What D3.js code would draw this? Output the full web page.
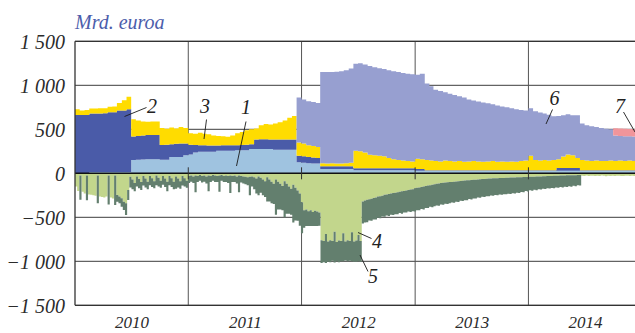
<!DOCTYPE html>
<html>
<head>
<meta charset="utf-8">
<script src="https://cdn.jsdelivr.net/npm/d3@7"></script>
<style>
  html, body { margin: 0; padding: 0; background: #fff; }
  svg { display: block; }
  text { font-family: "Liberation Serif", "Times New Roman", serif; font-style: italic; }
</style>
</head>
<body>
<svg id="chart" width="635" height="333"></svg>
<script>
// ---- Liquidity-providing bands, billions of euro, half-monthly from Jan 2010 (band thickness) ----
const band1 = [
  0,0,0,15,15,15,15,15,15,15,15,15,152,155,158,160,160,160,155,155,185,185,185,205,
  215,235,246,246,246,246,255,255,255,255,262,262,262,275,275,275,275,275,268,268,268,268,268,125,
  120,115,110,110,50,50,50,50,50,50,50,35,35,35,35,35,35,35,35,35,35,35,35,35,
  30,30,28,28,28,28,28,28,28,28,28,28,28,28,28,28,28,28,28,28,28,28,28,28,
  28,28,28,28,28,28,28,28,28,28,28,28,28,28,28,28,28,28,28,28,28,28,28,28
];
const band2 = [
  663,663,663,665,665,665,667,678,678,700,700,712,265,270,272,275,275,275,167,170,145,150,153,135,
  110,87,74,72,69,69,60,63,63,65,58,60,63,55,110,113,113,110,117,117,117,117,117,75,
  75,70,70,65,30,30,30,30,30,30,30,23,23,23,23,23,23,23,23,23,23,23,23,23,
  20,20,7,7,7,7,7,7,7,7,7,7,7,7,7,7,7,7,7,7,7,7,7,7,
  7,7,7,7,7,7,32,32,32,32,32,7,7,7,7,7,7,7,7,7,7,7,7,7
];
const band3 = [
  64,52,57,55,55,58,58,64,67,85,115,143,198,175,160,150,155,155,193,180,190,175,187,175,
  130,128,140,132,130,115,110,102,97,110,135,148,165,170,125,157,172,170,180,195,215,245,265,150,
  145,135,130,125,35,32,35,32,30,35,40,197,192,177,152,147,142,137,117,102,92,87,82,77,
  115,110,115,110,105,100,110,105,100,105,95,100,105,100,95,100,105,95,100,95,100,95,105,110,
  165,115,110,115,110,115,100,130,155,145,115,115,110,105,110,105,105,110,105,110,105,110,105,105
];
const band6 = [
  0,0,0,0,0,0,0,0,0,0,0,0,0,0,0,0,0,0,0,0,0,0,0,0,
  0,0,0,0,0,0,0,0,0,0,0,0,0,0,0,0,0,0,0,0,0,0,0,510,
  500,500,500,500,1035,1038,1035,1043,1050,1055,1070,990,1000,1000,1010,1000,995,990,995,1000,1000,995,990,990,
  955,970,870,845,810,800,775,765,755,735,730,705,688,680,675,660,645,640,623,620,605,598,580,570,
  540,555,545,530,520,498,490,470,455,455,485,415,400,395,380,375,365,355,290,280,282,275,278,278
];
const band7 = [
  0,0,0,0,0,0,0,0,0,0,0,0,0,0,0,0,0,0,0,0,0,0,0,0,
  0,0,0,0,0,0,0,0,0,0,0,0,0,0,0,0,0,0,0,0,0,0,0,0,
  0,0,0,0,0,0,0,0,0,0,0,0,0,0,0,0,0,0,0,0,0,0,0,0,
  0,0,0,0,0,0,0,0,0,0,0,0,0,0,0,0,0,0,0,0,0,0,0,0,
  0,0,0,0,0,0,0,0,0,0,0,0,0,0,0,0,0,0,82,83,83,82,82,82
];

// ---- Liquidity-absorbing bands, billions of euro, weekly from Jan 2010 (drawn below zero) ----
const band4 = [
  150,200,25,210,230,25,240,245,250,255,25,265,270,275,265,25,275,285,25,246,
  265,284,322,341,189,
  40,70,110,35,65,100,30,60,95,30,55,90,25,50,85,30,60,95,30,55,95,35,60,90,30,55,85,
  30,25,35,25,30,20,30,25,35,25,30,20,25,30,25,20,30,25,30,25,30,25,35,25,30,35,40,45,40,
  35,45,60,35,50,70,90,45,70,95,120,70,95,120,145,90,120,150,175,130,165,195,230,330,
  420,410,430,420,440,425,435,445,
  760,770,690,775,760,770,665,780,765,770,680,775,760,770,670,775,765,700,770,
  320,310,300,295,290,280,275,265,260,255,245,240,235,230,225,220,215,210,205,200,
  195,190,185,180,170,165,160,155,150,145,140,135,130,125,120,115,110,108,105,102,
  100,98,95,92,90,88,85,83,80,78,76,74,72,70,68,66,64,62,60,58,
  57,56,55,54,53,52,51,50,49,48,47,46,45,44,43,42,41,40,39,38,
  37,36,35,34,33,32,31,30,29,28,27,26,25,24,23,22,22,21,21,20,20,
  28,30,26,32,29,27,31,28,30,26,29,33,28,30,27,31,29,28,32,30,27,29,31,28,30
];
const band5 = [
  0,0,275,0,0,280,0,0,0,0,315,0,0,0,0,330,0,0,335,76,
  76,95,95,133,114,
  120,110,95,115,105,90,110,100,85,105,100,80,110,100,80,100,95,110,105,100,85,140,100,85,110,95,80,
  80,70,75,190,70,65,75,70,80,180,70,65,75,70,185,65,70,75,80,200,70,75,80,190,75,80,85,90,210,
  115,135,170,215,170,180,180,275,250,245,230,400,315,290,275,410,340,310,295,430,370,345,365,350,
  200,190,170,180,160,175,165,150,
  260,240,330,230,250,225,350,220,245,230,320,215,240,225,330,230,240,300,235,
  250,250,255,240,250,245,250,240,250,235,250,240,250,240,250,245,250,240,255,245,
  250,245,255,250,265,255,260,250,260,250,255,245,255,250,245,255,245,250,240,248,
  240,235,240,230,235,225,230,222,225,215,222,212,215,205,210,200,205,198,200,195,
  198,190,195,188,192,185,188,182,185,178,182,175,178,168,172,160,165,152,158,150,
  155,145,150,142,145,138,142,138,140,133,138,130,135,128,132,125,130,120,125,115,118,
  0,0,0,0,0,0,0,0,0,0,0,0,0,0,0,0,0,0,0,0,0,0,0,0,0
];

// ---- Axis labels ----
const yTickValues = [-1500, -1000, -500, 0, 500, 1000, 1500];
const yTickLabels = ["\u22121 500", "\u22121 000", "\u2212500", "0", "500", "1 000", "1 500"];
const xYears = [2010, 2011, 2012, 2013, 2014];
const xTickLabels = ["2010", "2011", "2012", "2013", "2014"];
const unitLabel = "Mrd. euroa";

// ---- Colours ----
const colors = {
  b1: "#9fc3e0", b2: "#4a5ba8", b3: "#ffdc00", b6: "#979fd0", b7: "#f1959b",
  b4: "#c2d68c", b5: "#637f6e"
};

// ---- Layout ----
const svg = d3.select("#chart");
const W = 635;
const plotLeft = 75, plotTop = 41.3, plotBottom = 305.3;

const x = d3.scaleTime()
  .domain([new Date(2010, 0, 1), new Date(2015, 0, 1)])
  .range([plotLeft, 641.7]);
const y = d3.scaleLinear().domain([-1500, 1500]).range([plotBottom, plotTop]);

// period start dates; one extra entry closes the last step
const halfMonths = d3.range(band1.length + 1)
  .map(k => new Date(2010, Math.floor(k / 2), k % 2 ? 16 : 1));
const weeks = d3.range(band4.length + 1)
  .map(w => d3.timeDay.offset(new Date(2010, 0, 1), 7 * w));

const posRows = halfMonths.map((date, i) => {
  const j = Math.min(i, band1.length - 1);
  return { date, b1: band1[j], b2: band2[j], b3: band3[j], b6: band6[j], b7: band7[j] };
});
const negRows = weeks.map((date, i) => {
  const j = Math.min(i, band4.length - 1);
  return { date, b4: band4[j], b5: band5[j] };
});

const posStack = d3.stack().keys(["b1", "b2", "b3", "b6", "b7"])(posRows);
const negStack = d3.stack().keys(["b4", "b5"])(negRows);

// clip to the plotting frame
svg.append("defs").append("clipPath").attr("id", "plot")
  .append("rect").attr("x", plotLeft).attr("y", plotTop)
  .attr("width", W - plotLeft).attr("height", plotBottom - plotTop);

// ---- Grid (behind the areas) ----
const grid = svg.append("g").attr("stroke", "#3c3c3c").attr("stroke-width", 1);
yTickValues.forEach(v => {
  grid.append("line").attr("x1", plotLeft).attr("x2", W).attr("y1", y(v)).attr("y2", y(v));
});
xYears.slice(1).forEach(yr => {
  const xx = x(new Date(yr, 0, 1));
  grid.append("line").attr("x1", xx).attr("x2", xx).attr("y1", plotTop).attr("y2", plotBottom)
    .attr("stroke", "#555");
});

// ---- Areas ----
const plot = svg.append("g").attr("clip-path", "url(#plot)");

const posArea = d3.area()
  .curve(d3.curveStepAfter)
  .x(d => x(d.data.date))
  .y0(d => y(d[0]))
  .y1(d => y(d[1]));
plot.selectAll("path.pos").data(posStack).join("path")
  .attr("class", "pos")
  .attr("fill", s => colors[s.key])
  .attr("d", posArea);

const negArea = d3.area()
  .curve(d3.curveStepAfter)
  .x(d => x(d.data.date))
  .y0(d => y(-d[0]))
  .y1(d => y(-d[1]));
plot.selectAll("path.neg").data(negStack).join("path")
  .attr("class", "neg")
  .attr("fill", s => colors[s.key])
  .attr("d", negArea);

// ---- Zero line with year ticks ----
svg.append("line").attr("x1", plotLeft).attr("x2", W).attr("y1", y(0)).attr("y2", y(0))
  .attr("stroke", "#111").attr("stroke-width", 1.5);
xYears.slice(1).forEach(yr => {
  const xx = x(new Date(yr, 0, 1));
  svg.append("line").attr("x1", xx).attr("x2", xx).attr("y1", y(0) - 6).attr("y2", y(0) + 6)
    .attr("stroke", "#333").attr("stroke-width", 1);
});

// ---- Frame ----
svg.append("line").attr("x1", plotLeft).attr("x2", plotLeft).attr("y1", plotTop).attr("y2", plotBottom)
  .attr("stroke", "#333").attr("stroke-width", 1.3);
svg.append("line").attr("x1", plotLeft).attr("x2", W).attr("y1", plotTop).attr("y2", plotTop)
  .attr("stroke", "#333").attr("stroke-width", 1.3);
svg.append("line").attr("x1", plotLeft).attr("x2", W).attr("y1", plotBottom).attr("y2", plotBottom)
  .attr("stroke", "#333").attr("stroke-width", 1.3);

// ---- Y axis labels ----
const yAxis = d3.axisLeft(y)
  .tickValues(yTickValues)
  .tickFormat((d, i) => yTickLabels[i])
  .tickSize(0)
  .tickPadding(10);
const gy = svg.append("g").attr("transform", `translate(${plotLeft},0)`).call(yAxis);
gy.select(".domain").remove();
gy.selectAll("text")
  .attr("font-family", null)
  .attr("font-size", 20)
  .attr("fill", "#2b2b2b")
  .attr("dy", "0.34em");

// ---- X axis labels (centred in each year) ----
const xAxis = d3.axisBottom(x)
  .tickValues(xYears.map(yr => new Date(yr, 6, 2)))
  .tickFormat((d, i) => xTickLabels[i])
  .tickSize(0)
  .tickPadding(0);
const gx = svg.append("g").attr("transform", "translate(0,328)").call(xAxis);
gx.select(".domain").remove();
gx.selectAll("text")
  .attr("font-family", null)
  .attr("font-size", 17)
  .attr("fill", "#2b2b2b")
  .attr("y", 0)
  .attr("dy", 0);

// ---- Unit label ----
svg.append("text").attr("x", 75).attr("y", 29)
  .attr("font-size", 20).attr("fill", "#4c5dab").text(unitLabel);

// ---- Band numbers with leader lines ----
const callouts = [
  { t: "2", tx: 147, ty: 113, x1: 124.5, y1: 116.5, x2: 146.5, y2: 107.5 },
  { t: "3", tx: 200, ty: 113, x1: 206.5, y1: 119.5, x2: 204, y2: 139 },
  { t: "1", tx: 241, ty: 114, x1: 246, y1: 121.5, x2: 236.5, y2: 166 },
  { t: "6", tx: 549.5, ty: 105, x1: 552.5, y1: 109.5, x2: 546, y2: 124 },
  { t: "7", tx: 615, ty: 113, x1: 623.5, y1: 112, x2: 635, y2: 132 },
  { t: "4", tx: 372, ty: 248, x1: 358, y1: 232.5, x2: 371.5, y2: 238.5 },
  { t: "5", tx: 368, ty: 283, x1: 360, y1: 255, x2: 368, y2: 271.5 }
];
const cg = svg.append("g");
callouts.forEach(c => {
  cg.append("line").attr("x1", c.x1).attr("y1", c.y1).attr("x2", c.x2).attr("y2", c.y2)
    .attr("stroke", "#1a1a1a").attr("stroke-width", 0.9);
  cg.append("text").attr("x", c.tx).attr("y", c.ty)
    .attr("font-size", 20).attr("fill", "#222").text(c.t);
});
</script>
</body>
</html>
